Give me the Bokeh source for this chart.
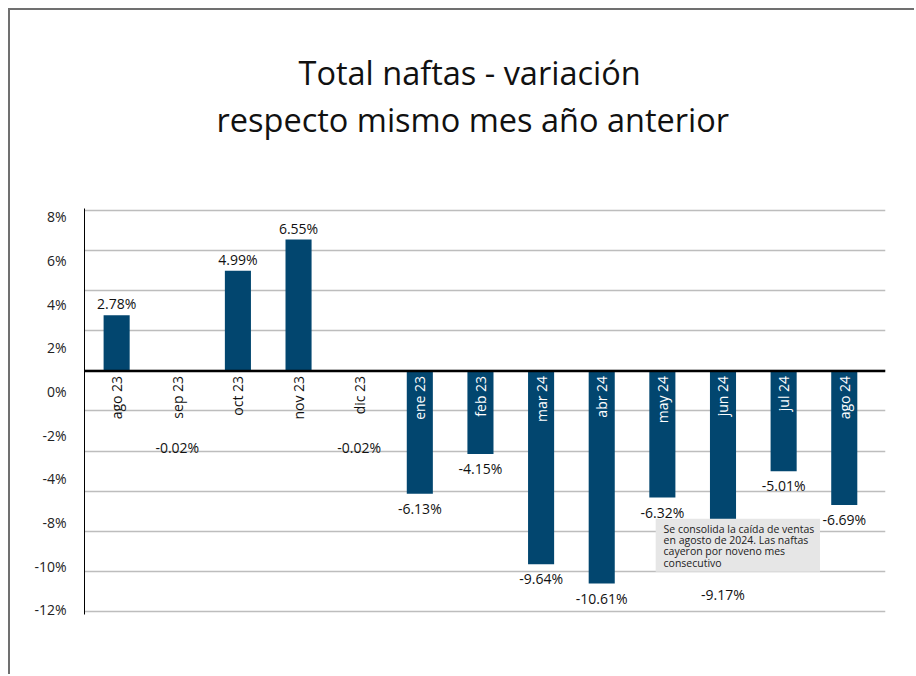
import numpy as np
from bokeh.plotting import figure
from bokeh.models import ColumnDataSource, FixedTicker, Span, BoxAnnotation, Label, Range1d, Title
from bokeh.core.properties import value
from bokeh.embed import file_html
from bokeh.resources import INLINE

# ---- data ----
months = ["ago 23", "sep 23", "oct 23", "nov 23", "dic 23", "ene 23", "feb 23",
          "mar 24", "abr 24", "may 24", "jun 24", "jul 24", "ago 24"]
variation = [2.78, -0.02, 4.99, 6.55, -0.02, -6.13, -4.15,
             -9.64, -10.61, -6.32, -9.17, -5.01, -6.69]
y_tick_labels = ["8%", "6%", "4%", "2%", "0%", "-2%", "-4%", "-8%", "-10%", "-12%"]
grid_values = [8, 6, 4, 2, 0, -2, -4, -6, -8, -10, -12]
title_lines = ["Total naftas -  variación", "respecto mismo mes año anterior"]
note_lines = ["Se consolida la caída de ventas", "en agosto de 2024. Las naftas",
              "cayeron por noveno mes", "consecutivo"]

# ---- layout / style ----
FONT = "Open Sans"
BAR = "#02466F"
label_pos_override = {1: -3.1, 4: -3.1, 10: -10.45}

x = list(range(len(months)))
cat_color = ["white" if v < -1 else "#111111" for v in variation]
val_text = [f"{v:.2f}%" for v in variation]

pos_x, pos_y, pos_t = [], [], []
neg_x, neg_y, neg_t = [], [], []
for i, v in enumerate(variation):
    if v >= 0:
        pos_x.append(i); pos_y.append(v); pos_t.append(val_text[i])
    else:
        neg_x.append(i); neg_y.append(label_pos_override.get(i, v)); neg_t.append(val_text[i])

src = ColumnDataSource(dict(x=x, v=variation, months=months, cc=cat_color))

p = figure(width=906, height=666, x_range=Range1d(-0.53, 12.68), y_range=Range1d(-12.15, 8.1),
           output_backend="svg", toolbar_location=None,
           min_border_left=74, min_border_right=31, min_border_top=198, min_border_bottom=62,
           styles={"border-top": "2px solid #707070", "border-left": "2px solid #707070",
                   "margin-top": "8px", "margin-left": "8px"})
p.outline_line_color = None
p.xaxis.visible = False
p.xgrid.visible = False
p.ygrid.ticker = FixedTicker(ticks=grid_values)
p.ygrid.grid_line_color = "#bdbdbd"
p.ygrid.grid_line_width = 1.5

tick_pos = [round(float(t), 2) for t in np.linspace(7.68, -11.92, len(y_tick_labels))]
p.yaxis.ticker = FixedTicker(ticks=tick_pos)
p.yaxis.major_label_overrides = {t: l for t, l in zip(tick_pos, y_tick_labels)}
p.yaxis.major_tick_line_color = None
p.yaxis.minor_tick_line_color = None
p.yaxis.axis_line_color = "black"
p.yaxis.major_label_standoff = 12
p.yaxis.major_label_text_font = FONT
p.yaxis.major_label_text_font_size = "14px"
p.yaxis.major_label_text_color = "#222222"

p.vbar(x="x", top="v", bottom=0, width=0.43, source=src, fill_color=BAR, line_color=None)

p.add_layout(Span(location=0, dimension="width", line_color="black", line_width=2.5))

# category labels (rotated)
p.text(x="x", y=-0.25, text="months", source=src, angle=np.pi / 2, text_align="right",
       text_baseline="middle", text_color="cc", text_font=value(FONT), text_font_size="14px")

# value labels
p.text(x=pos_x, y=pos_y, text=pos_t, text_align="center", text_baseline="bottom", y_offset=-2,
       text_font=value(FONT), text_font_size="14px", text_color="#111111")
p.text(x=neg_x, y=neg_y, text=neg_t, text_align="center", text_baseline="top", y_offset=5,
       text_font=value(FONT), text_font_size="14px", text_color="#111111")

# note box
p.add_layout(BoxAnnotation(left=8.89, right=11.6, top=-7.38, bottom=-10.02,
                           fill_color="#e6e6e6", fill_alpha=1, line_color=None))
for k, line in enumerate(note_lines):
    p.add_layout(Label(x=9.02, y=-7.88 - k * 0.56, text=line, text_font=FONT,
                       text_font_size="10.5px", text_color="#222222",
                       text_baseline="middle", text_align="left"))

# title: spacer, then second line, then first line (stacked upward from the frame)
p.add_layout(Title(text=" ", text_font_size="50px", standoff=9), "above")
p.add_layout(Title(text=title_lines[1], align="left", offset=132, standoff=0,
                   text_font=FONT, text_font_size="32.5px", text_font_style="normal",
                   text_color="#111111"), "above")
p.add_layout(Title(text=title_lines[0], align="left", offset=214, standoff=0,
                   text_font=FONT, text_font_size="32.5px", text_font_style="normal",
                   text_color="#111111"), "above")

open("out.html", "w").write(file_html(p, INLINE))
